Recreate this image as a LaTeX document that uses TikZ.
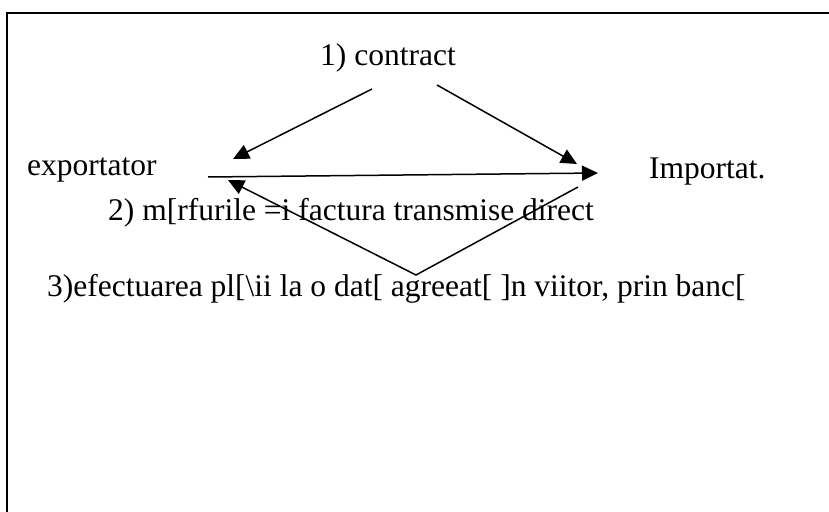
\documentclass[tikz,border=0pt]{standalone}
\usepackage{fontspec}
\setmainfont{Liberation Serif}
\usetikzlibrary{arrows.meta}
\begin{document}
\begin{tikzpicture}[x=1pt,y=-1pt,
  lbl/.style={anchor=base west,inner sep=0pt,font=\fontsize{31.5}{38}\selectfont},
  conn/.style={line width=1.5pt,-{Triangle[length=16pt,width=15pt]}},
  frame/.style={line width=2.2pt}]
\useasboundingbox (0,0) rectangle (829,511);
\fill[white] (0,0) rectangle (829,511);
% frame (left and top edges)
\coordinate (fb) at (7,512);
\coordinate (fc) at (7,13);
\coordinate (fr) at (830,13);
\draw[frame] (fb) -- (fc) -- (fr);
% labels
\node[lbl] (contract) at (320,65) {1) contract};
\node[lbl] (exp) at (27,175) {exportator};
\node[lbl] (imp) at (649,178) {Importat.};
\node[lbl] (marf) at (108,220) {2) m[rfurile =i factura transmise direct};
\node[lbl] (plata) at (47,296) {3)efectuarea pl[\textbackslash ii la o dat[ agreeat[ ]n viitor, prin banc[};
% arrow coordinates
\coordinate (c1s) at (372,89);
\coordinate (c1e) at (233,159);
\coordinate (c2s) at (437,85);
\coordinate (c2e) at (577,164);
\coordinate (hs) at (208,177);
\coordinate (he) at (598,173);
\coordinate (rs) at (578,187);
\coordinate (rb) at (416,275);
\coordinate (re) at (228,180);
\draw[conn] (c1s) -- (c1e);
\draw[conn] (c2s) -- (c2e);
\draw[conn] (hs) -- (he);
\draw[conn] (rs) -- (rb) -- (re);
\end{tikzpicture}
\end{document}
